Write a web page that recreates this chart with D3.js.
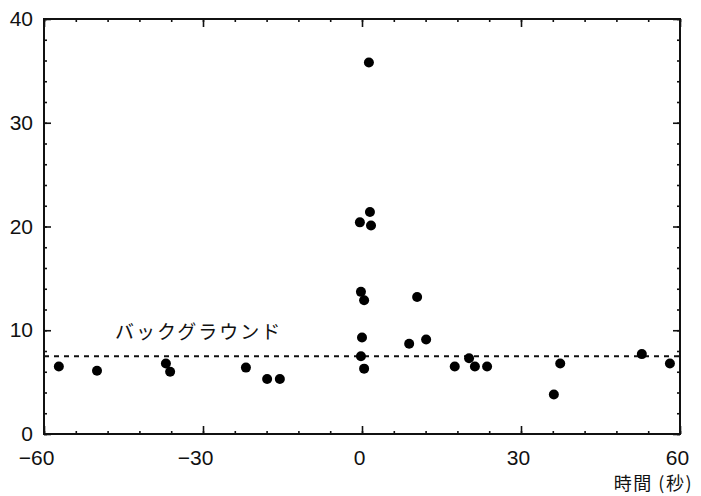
<!DOCTYPE html>
<html>
<head>
<meta charset="utf-8">
<style>
body { margin: 0; background: #fff; }
svg text { fill: #111; }
.num text { font-family: "Liberation Sans", Arial, sans-serif; font-size: 21px; }
.jp { font-family: "Noto Sans CJK JP", sans-serif; }
</style>
</head>
<body>
<script src="https://d3js.org/d3.v7.min.js"></script>
<script>

const W = 701, H = 496;

// time (s) vs counts
const times = [-57.2, -50, -37, -36.2, -21.9, -17.9, -15.5,
  -0.4, 1.3, 1.5, 1.7, -0.2, 0.4, 0, -0.2, 0.4,
  8.9, 10.4, 12.1, 17.5, 20.2, 21.3, 23.6, 36.2, 37.4, 52.8, 58.1];
const counts = [6.5, 6.1, 6.8, 6.0, 6.4, 5.3, 5.3,
  20.4, 35.8, 21.4, 20.1, 13.7, 12.9, 9.3, 7.5, 6.3,
  8.7, 13.2, 9.1, 6.5, 7.3, 6.5, 6.5, 3.8, 6.8, 7.7, 6.8];
const background = 7.5;
const xMajor = [-60, -30, 0, 30, 60];
const yMajor = [0, 10, 20, 30, 40];

const mL = 44, mR = 680, mT = 19, mB = 434;

const svg = d3.select("body")
  .append("svg")
  .attr("width", W)
  .attr("height", H);

const x = d3.scaleLinear().domain([-60, 60]).range([mL, mR]);
const y = d3.scaleLinear().domain([0, 40]).range([mB, mT]);

// minor ticks
const xMinor = d3.range(-60, 61, 6);
const yMinor = d3.range(0, 41, 2);

function addAxis(axis, tr, cls) {
  const g = svg.append("g").attr("transform", tr).attr("class", cls || "").call(axis);
  g.select(".domain").remove();
  g.selectAll("line").attr("stroke", "#111").attr("stroke-width", 1.6);
  return g;
}

addAxis(d3.axisBottom(x).tickValues(xMinor).tickSize(-3).tickFormat(""), `translate(0,${mB})`);
addAxis(d3.axisTop(x).tickValues(xMinor).tickSize(-3).tickFormat(""), `translate(0,${mT})`);
addAxis(d3.axisLeft(y).tickValues(yMinor).tickSize(-3).tickFormat(""), `translate(${mL},0)`);
addAxis(d3.axisRight(y).tickValues(yMinor).tickSize(-3).tickFormat(""), `translate(${mR},0)`);

const xb = addAxis(d3.axisBottom(x).tickValues(xMajor).tickSize(-8).tickPadding(16), `translate(0,${mB})`, "num");
xb.selectAll("text").attr("dx", d => d < 0 ? -8 : -3);
addAxis(d3.axisTop(x).tickValues(xMajor).tickSize(-8).tickFormat(""), `translate(0,${mT})`);
addAxis(d3.axisLeft(y).tickValues(yMajor).tickSize(-7).tickPadding(11), `translate(${mL},0)`, "num");
addAxis(d3.axisRight(y).tickValues(yMajor).tickSize(-7).tickFormat(""), `translate(${mR},0)`);

// frame
svg.append("rect")
  .attr("x", mL).attr("y", mT)
  .attr("width", mR - mL).attr("height", mB - mT)
  .attr("fill", "none").attr("stroke", "#111").attr("stroke-width", 2);

// background level
svg.append("line")
  .attr("x1", x(-60)).attr("x2", x(60))
  .attr("y1", y(background)).attr("y2", y(background))
  .attr("stroke", "#111").attr("stroke-width", 2)
  .attr("stroke-dasharray", "5,5");

svg.append("text")
  .attr("class", "jp")
  .attr("x", x(-46.6)).attr("y", y(background) - 17)
  .attr("font-size", 19)
  .attr("letter-spacing", 2)
  .text("バックグラウンド");

svg.append("g")
  .selectAll("circle")
  .data(times.map((t, i) => [t, counts[i]]))
  .join("circle")
  .attr("cx", d => x(d[0]))
  .attr("cy", d => y(d[1]))
  .attr("r", 5)
  .attr("fill", "#000");

svg.append("text")
  .attr("class", "jp")
  .attr("x", 693).attr("y", 490)
  .attr("text-anchor", "end")
  .attr("font-size", 18)
  .attr("letter-spacing", 1.5)
  .text("時間 (秒)");

</script>
</body>
</html>
